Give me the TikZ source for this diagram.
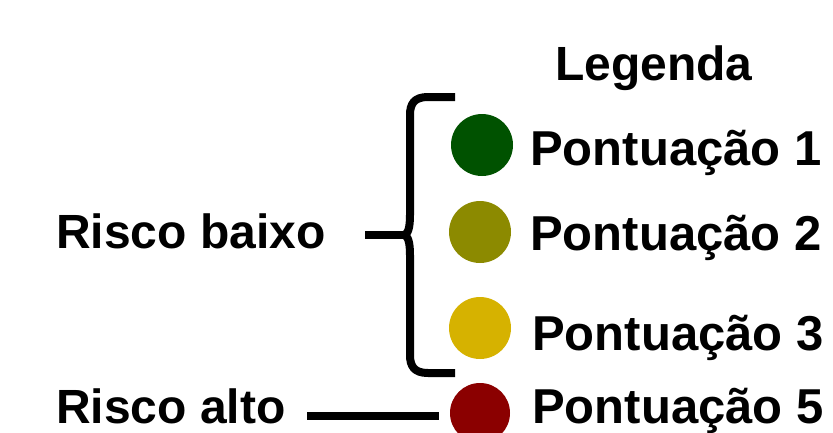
\documentclass[tikz,border=0pt]{standalone}
\usepackage{fontspec}
\setmainfont{Liberation Sans}
\definecolor{cgreen}{HTML}{005200}
\definecolor{colive}{HTML}{8C8A00}
\definecolor{cyellow}{HTML}{D6B200}
\definecolor{cred}{HTML}{8B0000}
\begin{document}
\begin{tikzpicture}[x=1pt,y=-1pt,
  lbl/.style={anchor=base west,inner sep=0pt,font=\fontsize{49}{52}\selectfont\bfseries},
  dot/.style={circle,inner sep=0pt,minimum size=62pt},
  stroke/.style={line width=8pt,black}]
\useasboundingbox (0,0) rectangle (833,432);
\node[lbl,font=\fontsize{48}{52}\selectfont\bfseries] (leg) at (555,80) {Legenda};
\node[dot,fill=cgreen] (c1) at (482,145) {};
\node[dot,fill=colive] (c2) at (480,232) {};
\node[dot,fill=cyellow] (c3) at (480,328) {};
\node[dot,fill=cred,minimum size=60pt] (c4) at (480,413) {};
\node[lbl] (p1) at (530,165) {Pontuação 1};
\node[lbl] (p2) at (530,250) {Pontuação 2};
\node[lbl] (p3) at (532,350) {Pontuação 3};
\node[lbl] (p5) at (532,423) {Pontuação 5};
\node[lbl,font=\fontsize{48}{52}\selectfont\bfseries] (rb) at (56,248) {Risco baixo};
\node[lbl,font=\fontsize{48}{52}\selectfont\bfseries] (ra) at (56,423) {Risco alto};
\coordinate (btop) at (455,97);
\coordinate (bbot) at (455,373);
\coordinate (btip) at (404,235);
\coordinate (bline) at (365,235);
\draw[stroke] (btop) -- (428,97) .. controls (414,97) and (410,104) .. (410,115)
  -- (410,215) .. controls (410,228) and (408,234) .. (btip)
  .. controls (408,236) and (410,242) .. (410,255)
  -- (410,355) .. controls (410,366) and (414,373) .. (428,373) -- (bbot);
\draw[stroke] (bline) -- (btip);
\coordinate (la) at (307,416);
\draw[stroke,shorten >=11pt] (la) -- (la -| c4.west);
\end{tikzpicture}
\end{document}
